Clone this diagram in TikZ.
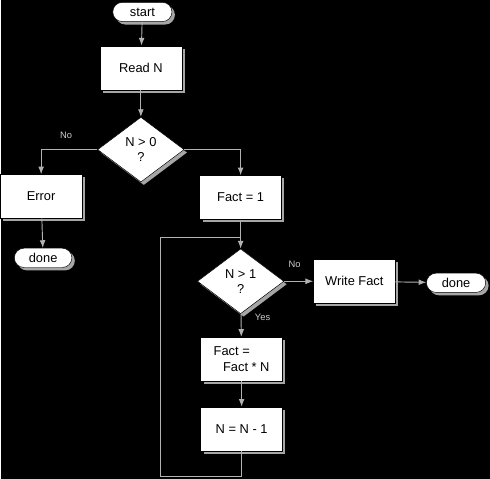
\documentclass[tikz,border=0pt]{standalone}
\usepackage{fontspec}
\setmainfont{Liberation Sans}
\usepackage{tikz}
\usetikzlibrary{arrows.meta, positioning, shapes.geometric, shapes.misc, shadows, calc}

\begin{document}
\begin{tikzpicture}[
  x=0.03cm, y=-0.03cm,
  font=\fontsize{11}{13}\selectfont,
  >=Latex,
  shade/.style={
    drop shadow={shadow xshift=2.5pt, shadow yshift=-2.5pt, fill=gray!70, opacity=1}
  },
  box/.style={
    draw=black, fill=white, shade,
    minimum width=2.46cm, minimum height=1.32cm,
    align=center, inner sep=2pt
  },
  decision/.style={
    diamond, draw=black, fill=white, shade,
    minimum width=2.6cm, minimum height=1.95cm,
    align=center, inner sep=0pt
  },
  terminal/.style={
    rounded rectangle, draw=black, fill=white, shade,
    minimum width=1.85cm, minimum height=0.58cm,
    inner sep=1pt
  },
  flow/.style={->, draw=white!70!black, line width=0.8pt},
  tag/.style={font=\fontsize{8}{9}\selectfont, text=white!80!black, inner sep=1pt}
]

% background, also fixes the page size
\fill[black] (0,0) rectangle (490,480);

% main column
\node[terminal] (start) at (141.5,12) {start};
\node[box] (read) at (140,68) {Read N};
\node[decision] (test0) at (140,150) {N > 0\\?};

% left branch: error
\node[box] (error) at (40,197) {Error};
\node[terminal, minimum width=1.8cm] (done1) at (42,258.5) {done};

% right branch: the loop
\node[box] (init) at (240,198) {Fact = 1};
\node[decision] (test1) at (240,282) {N > 1\\?};
\node[box] (write) at (354,282) {Write Fact};
\node[terminal] (done2) at (456,283.5) {done};
\node[box, align=left] (mult) at (241,360) {Fact =\\\hspace{8pt}Fact * N};
\node[box] (dec) at (241,430) {N = N - 1};

% loop corners
\coordinate (loopbot) at (160,478);
\coordinate (loopjoin) at (240,238);

% connectors
\draw[flow] (start) -- (read);
\draw[flow] (read) -- (test0);
\draw[flow] (test0.west) -| (error.north);
\draw[flow] (test0.east) -| (init.north);
\draw[flow] (error) -- (done1);
\draw[flow] (init) -- (test1);
\draw[flow] (test1) -- (write);
\draw[flow] (write) -- (done2);
\draw[flow] (test1) -- (mult);
\draw[flow] (mult) -- (dec);
\draw[flow, -] (dec.south) |- (loopbot) |- (loopjoin);

% branch labels
\node[tag] (no0) at (65,136) {No};
\node[tag] (no1) at (294,265) {No};
\node[tag] (yes1) at (262,318) {Yes};

\end{tikzpicture}
\end{document}
